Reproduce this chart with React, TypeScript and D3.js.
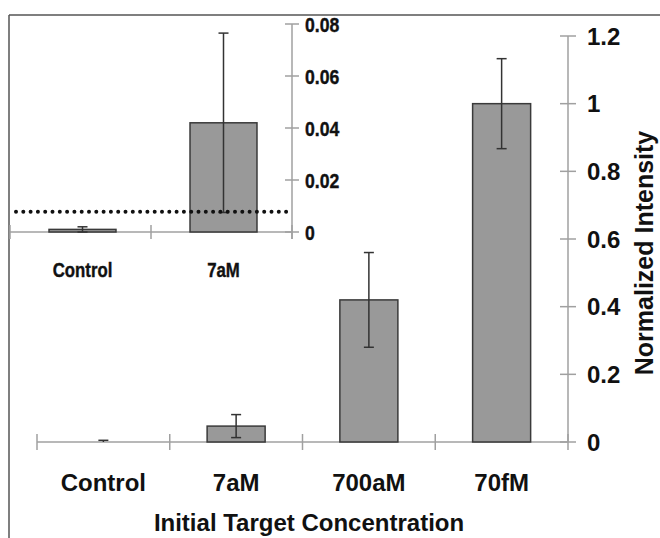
import React from "react";
import * as d3 from "d3";

const mainCategories = ["Control", "7aM", "700aM", "70fM"];
const mainValues = [0.001, 0.047, 0.42, 1.0];
const mainErrors = [0.004, 0.034, 0.14, 0.133];
const mainTicks = [0, 0.2, 0.4, 0.6, 0.8, 1, 1.2];

const insetCategories = ["Control", "7aM"];
const insetValues = [0.001, 0.042];
const insetErrors = [0.001, 0.0345];
const insetTicks = [0, 0.02, 0.04, 0.06, 0.08];
const threshold = 0.0078;

const xTitle = "Initial Target Concentration";
const yTitle = "Normalized Intensity";

const W = 660;
const H = 538;
const axisColor = "#a0a0a0";
const barFill = "#999999";
const barStroke = "#3a3a3a";
const errColor = "#333333";
const font = "'Liberation Sans', Arial, sans-serif";

export default function App() {
  // main chart scales
  const x = d3.scaleBand<string>().domain(mainCategories).range([37, 568]).paddingInner(0).paddingOuter(0);
  const y = d3.scaleLinear().domain([0, 1.2]).range([442, 36]);
  const bw = x.bandwidth() * 0.437;

  // inset scales
  const xi = d3.scaleBand<string>().domain(insetCategories).range([10, 292]);
  const yi = d3.scaleLinear().domain([0, 0.08]).range([232, 24]);
  const bwi = xi.bandwidth() * 0.475;

  const fmtMain = (v: number) => d3.format("~g")(v);
  const fmtInset = (v: number) => (v === 0 ? "0" : d3.format(".2f")(v));

  const mainBoundaries = [...mainCategories.map((c) => x(c)!), x.range()[1]];
  const insetBoundaries = [...insetCategories.map((c) => xi(c)!), xi.range()[1]];

  return (
    <svg
      width={W}
      height={H}
      style={{ position: "absolute", left: 0, top: 0, background: "#fff" }}
      fontFamily={font}
    >
      <rect x={0} y={0} width={W} height={H} fill="#fff" />
      {/* frame */}
      <line x1={9} y1={15} x2={W} y2={15} stroke="#555" strokeWidth={1.5} />
      <line x1={9} y1={15} x2={9} y2={H} stroke="#555" strokeWidth={1.5} />

      {/* main axes */}
      <line x1={x.range()[0]} y1={y(0)} x2={x.range()[1]} y2={y(0)} stroke={axisColor} strokeWidth={1.5} />
      {mainBoundaries.map((bx, i) => (
        <line key={"mxt" + i} x1={bx} x2={bx} y1={y(0) - 8} y2={y(0) + 8} stroke={axisColor} strokeWidth={1.5} />
      ))}
      <line x1={568} x2={568} y1={y(1.2)} y2={y(0)} stroke={axisColor} strokeWidth={1.5} />
      {mainTicks.map((t) => (
        <g key={"myt" + t}>
          <line x1={560} x2={576} y1={y(t)} y2={y(t)} stroke={axisColor} strokeWidth={1.5} />
          <text x={587} y={y(t)} dy="0.36em" fontSize={24} fontWeight="bold" fill="#111">
            {fmtMain(t)}
          </text>
        </g>
      ))}

      {/* main bars */}
      {mainCategories.map((c, i) => {
        const cx = x(c)! + x.bandwidth() / 2;
        const top = y(mainValues[i]);
        const h = y(0) - top;
        const eTop = y(mainValues[i] + mainErrors[i]);
        const eBot = y(Math.max(0, mainValues[i] - mainErrors[i]));
        return (
          <g key={"mb" + c}>
            {h > 1 && (
              <rect x={cx - bw / 2} y={top} width={bw} height={h} fill={barFill} stroke={barStroke} strokeWidth={1.5} />
            )}
            <line x1={cx} x2={cx} y1={eTop} y2={eBot} stroke={errColor} strokeWidth={1.5} />
            <line x1={cx - 5} x2={cx + 5} y1={eTop} y2={eTop} stroke={errColor} strokeWidth={1.5} />
            {h > 1 && <line x1={cx - 5} x2={cx + 5} y1={eBot} y2={eBot} stroke={errColor} strokeWidth={1.5} />}
            <text x={cx} y={491} textAnchor="middle" fontSize={24} fontWeight="bold" fill="#111">
              {c}
            </text>
          </g>
        );
      })}

      <text x={309} y={531} textAnchor="middle" fontSize={24} fontWeight="bold" fill="#111">
        {xTitle}
      </text>
      <text
        transform={`translate(653, 253) rotate(-90)`}
        textAnchor="middle"
        fontSize={25}
        fontWeight="bold"
        fill="#111"
      >
        {yTitle}
      </text>

      {/* inset */}
      <line x1={xi.range()[0]} x2={xi.range()[1]} y1={yi(0)} y2={yi(0)} stroke={axisColor} strokeWidth={1.5} />
      {insetBoundaries.map((bx, i) => (
        <line key={"ixt" + i} x1={bx} x2={bx} y1={yi(0) - 7} y2={yi(0) + 7} stroke={axisColor} strokeWidth={1.5} />
      ))}
      <line x1={292} x2={292} y1={yi(0.08)} y2={yi(0) + 7} stroke={axisColor} strokeWidth={1.5} />
      {insetTicks.map((t) => (
        <g key={"iyt" + t}>
          <line x1={285} x2={299} y1={yi(t)} y2={yi(t)} stroke={axisColor} strokeWidth={1.5} />
          <text
            transform={`translate(305, ${yi(t)}) scale(0.84, 1)`}
            dy="0.36em"
            fontSize={21}
            fontWeight="bold"
            fill="#111"
            stroke="#111"
            strokeWidth={0.4}
          >
            {fmtInset(t)}
          </text>
        </g>
      ))}
      {insetCategories.map((c, i) => {
        const cx = xi(c)! + xi.bandwidth() / 2 + 2;
        const top = yi(insetValues[i]);
        const h = yi(0) - top;
        const eTop = yi(insetValues[i] + insetErrors[i]);
        const eBot = yi(Math.max(0, insetValues[i] - insetErrors[i]));
        return (
          <g key={"ib" + c}>
            <rect x={cx - bwi / 2} y={top} width={bwi} height={Math.max(h, 0.5)} fill={barFill} stroke={barStroke} strokeWidth={1.5} />
            <line x1={cx} x2={cx} y1={eTop} y2={eBot} stroke={errColor} strokeWidth={1.5} />
            <line x1={cx - 5} x2={cx + 5} y1={eTop} y2={eTop} stroke={errColor} strokeWidth={1.5} />
            <line x1={cx - 5} x2={cx + 5} y1={eBot} y2={eBot} stroke={errColor} strokeWidth={1.5} />
            <text
              transform={`translate(${cx}, 277) scale(0.84, 1)`}
              textAnchor="middle"
              fontSize={20}
              fontWeight="bold"
              fill="#111"
              stroke="#111"
              strokeWidth={0.4}
            >
              {c}
            </text>
          </g>
        );
      })}
      <line
        x1={16}
        x2={292}
        y1={yi(threshold)}
        y2={yi(threshold)}
        stroke="#111"
        strokeWidth={4}
        strokeLinecap="round"
        strokeDasharray="0 7.3"
      />
    </svg>
  );
}
